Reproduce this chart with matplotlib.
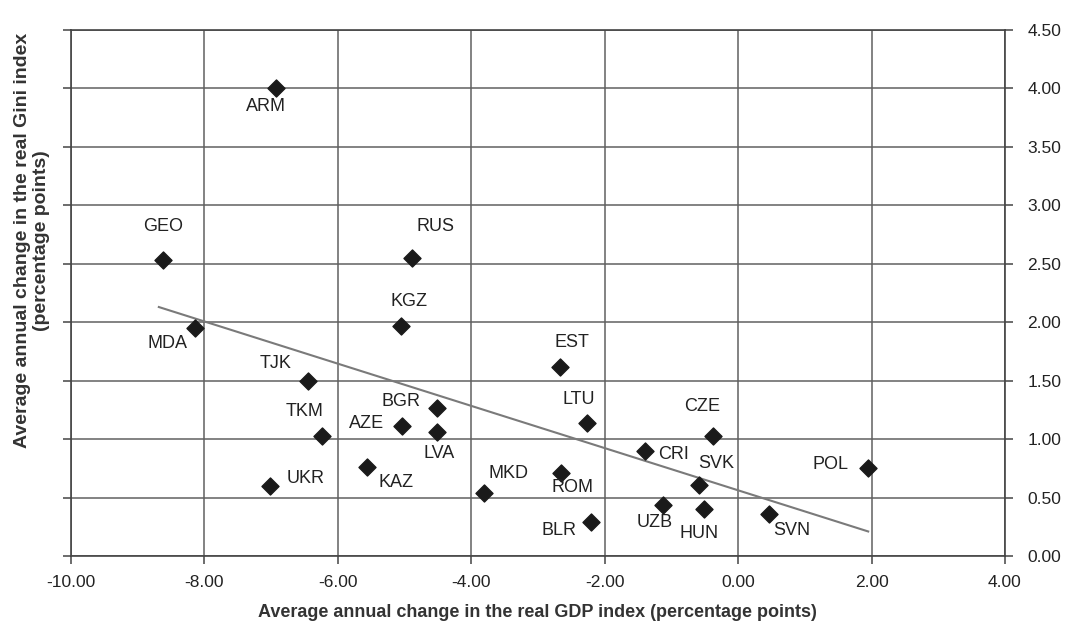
import matplotlib.pyplot as plt

plt.rcParams['font.family'] = ['Liberation Sans', 'DejaVu Sans']

# Country codes and values
countries = ["ARM", "GEO", "RUS", "KGZ", "MDA", "TJK", "TKM", "BGR", "AZE", "LVA",
             "KAZ", "UKR", "MKD", "EST", "LTU", "CZE", "CRI", "SVK", "POL", "ROM",
             "BLR", "UZB", "HUN", "SVN"]
gdp_change = [-6.93, -8.62, -4.89, -5.05, -8.14, -6.45, -6.24, -4.51, -5.04, -4.51,
              -5.56, -7.02, -3.80, -2.67, -2.27, -0.37, -1.40, -0.58, 1.94, -2.65,
              -2.21, -1.12, -0.51, 0.47]
gini_change = [4.00, 2.53, 2.55, 1.97, 1.95, 1.50, 1.03, 1.27, 1.11, 1.06,
               0.76, 0.60, 0.54, 1.62, 1.14, 1.03, 0.90, 0.61, 0.75, 0.71,
               0.29, 0.44, 0.40, 0.36]
# label offsets in pixels (dx, dy)
label_offsets = [(-10, -18), (0, 34), (24, 31), (8, 24), (-27, -15), (-32, 17), (-17, 24),
                 (-36, 6), (-35, 3), (2, -21), (29, -15), (36, 7), (24, 19), (12, 24),
                 (-8, 23), (-11, 29), (29, -4), (17, 21), (-37, 4), (11, -14),
                 (-32, -8), (-9, -18), (-5, -24), (22, -17)]

# trend line end points
trend_x = [-8.68, 1.95]
trend_y = [2.13, 0.21]

fig = plt.figure(figsize=(10.72, 6.38), dpi=100)
ax = fig.add_axes([0.066, 0.1285, 0.8715, 0.8245])

ax.grid(True, color="#606060", linewidth=1.1)
ax.set_axisbelow(True)

ax.plot(trend_x, trend_y, color="#7a7a7a", linewidth=1.5, zorder=2)
ax.scatter(gdp_change, gini_change, marker="D", s=75, color="#1a1a1a", zorder=3)

for name, x, y, (dx, dy) in zip(countries, gdp_change, gini_change, label_offsets):
    ax.annotate(name, (x, y), xytext=(dx, dy), textcoords="offset pixels",
                ha="center", va="center", fontsize=13, color="#222222")

ax.set_xlim(-10, 4)
ax.set_ylim(0, 4.5)
ax.set_xticks(range(-10, 5, 2))
ax.set_xticklabels([f"{v:.2f}" for v in range(-10, 5, 2)])
yt = [i * 0.5 for i in range(10)]
ax.set_yticks(yt)
ax.set_yticklabels([f"{v:.2f}" for v in yt])

ax.yaxis.tick_right()
ax.tick_params(axis="both", direction="out", length=6, width=1.1, color="#444444",
               labelsize=12.5, labelcolor="#222222")
ax.tick_params(axis="y", which="both", left=True, right=True, pad=10)
ax.tick_params(axis="x", pad=8)
for s in ax.spines.values():
    s.set_color("#444444")
    s.set_linewidth(1.2)

ax.set_xlabel("Average annual change in the real GDP index (percentage points)",
              fontsize=13, fontweight="bold", color="#333333", labelpad=10)
ax.yaxis.set_label_position("left")
ax.set_ylabel("Average annual change in the real Gini index\n(percentage points)",
              fontsize=14, fontweight="bold", color="#333333", linespacing=1.2)
ax.yaxis.set_label_coords(-0.022, 0.6)

fig.savefig("out.png", dpi=100, facecolor="white")
